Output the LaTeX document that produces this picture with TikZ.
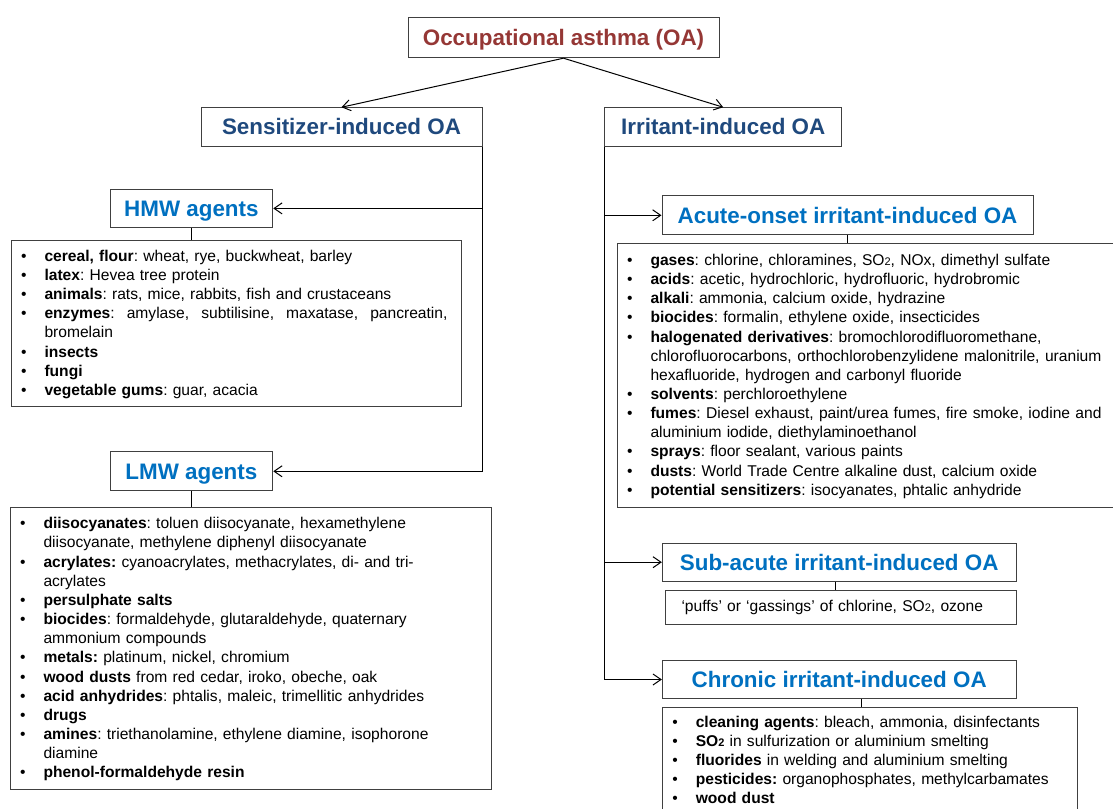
\documentclass[tikz,border=0pt]{standalone}
\usepackage{fontspec}
\setmainfont{Liberation Sans}
\usepackage{xcolor}
\usetikzlibrary{arrows.meta,positioning,calc}
\frenchspacing

\definecolor{oared}{RGB}{149,55,53}
\definecolor{typeblue}{RGB}{31,73,125}
\definecolor{agentblue}{RGB}{0,112,192}
\definecolor{boxline}{RGB}{64,64,64}

\newcommand{\SOtwo}{SO{\fontsize{11}{11}\selectfont 2}}
\newcommand{\fullline}[1]{\makebox[\linewidth][s]{\spaceskip=0.278em plus 2em minus 0.1em\relax #1}}

\newenvironment{agents}[1][0pt]{%
  \begin{list}{\textbullet}{%
    \setlength{\leftmargin}{21pt}%
    \setlength{\rightmargin}{#1}%
    \setlength{\labelwidth}{5.5pt}%
    \setlength{\labelsep}{18pt}%
    \setlength{\itemsep}{0pt}%
    \setlength{\parsep}{0pt}%
    \setlength{\topsep}{0pt}%
    \setlength{\partopsep}{0pt}}}%
  {\end{list}\par\kern6pt}

\begin{document}
\begin{tikzpicture}[
    x=1pt, y=-1pt,
    titlebox/.style={rectangle, draw=boxline, line width=1pt, inner sep=0pt, text height=16pt, text depth=0pt, font=\fontsize{22.4}{26}\selectfont\bfseries},
    agentbox/.style={rectangle, draw=boxline, line width=1pt, inner xsep=12pt, inner ysep=0pt, anchor=north west, font=\fontsize{15.6}{19.15}\selectfont},
    arrow/.style={-{Straight Barb[length=8pt,width=11pt]}, line width=1pt},
    link/.style={line width=1pt}
]
\useasboundingbox (0,0) rectangle (1113,808);

\node[titlebox, text=oared, minimum width=311pt, minimum height=40pt] (oa) at (563.5,37.7) {Occupational asthma (OA)};
\node[titlebox, text=typeblue, minimum width=281pt, minimum height=38.3pt] (sens) at (341.5,126.9) {Sensitizer-induced OA};
\node[titlebox, text=typeblue, minimum width=236.5pt, minimum height=38.3pt] (irr) at (723.2,126.9) {Irritant-induced OA};

\node[titlebox, text=agentblue, minimum width=162.7pt, minimum height=38.7pt] (hmw) at (191.4,208.4) {HMW agents};
\node[titlebox, text=agentblue, minimum width=162.7pt, minimum height=39.3pt] (lmw) at (191.4,471.3) {LMW agents};
\node[titlebox, text=agentblue, minimum width=371pt, minimum height=39.3pt] (acute) at (847.5,215.3) {Acute-onset irritant-induced OA};
\node[titlebox, text=agentblue, minimum width=353.7pt, minimum height=37.7pt] (sub) at (839.2,562.2) {Sub-acute irritant-induced OA};
\node[titlebox, text=agentblue, minimum width=353.7pt, minimum height=37.6pt] (chr) at (839.2,679.5) {Chronic irritant-induced OA};

\node[agentbox, text width=426pt, minimum height=166pt] (hmwlist) at (11,240) {%
\begin{agents}[2pt]
\item \textbf{cereal, flour}: wheat, rye, buckwheat, barley
\item \textbf{latex}: Hevea tree protein
\item \textbf{animals}: rats, mice, rabbits, fish and crustaceans
\item \fullline{\textbf{enzymes}: amylase, subtilisine, maxatase, pancreatin,}\newline bromelain
\item \textbf{insects}
\item \textbf{fungi}
\item \textbf{vegetable gums}: guar, acacia
\end{agents}};

\node[agentbox, text width=457.3pt, minimum height=282.3pt] (lmwlist) at (10,506.7) {%
\begin{agents}
\item \textbf{diisocyanates}: toluen diisocyanate, hexamethylene\newline diisocyanate, methylene diphenyl diisocyanate
\item \textbf{acrylates:} cyanoacrylates, methacrylates, di- and tri-\newline acrylates
\item \textbf{persulphate salts}
\item \textbf{biocides}: formaldehyde, glutaraldehyde, quaternary\newline ammonium compounds
\item \textbf{metals:} platinum, nickel, chromium
\item \textbf{wood dusts} from red cedar, iroko, obeche, oak
\item \textbf{acid anhydrides}: phtalis, maleic, trimellitic anhydrides
\item \textbf{drugs}
\item \textbf{amines}: triethanolamine, ethylene diamine, isophorone\newline diamine
\item \textbf{phenol-formaldehyde resin}
\end{agents}};

\node[agentbox, text width=520pt, minimum height=263.7pt] (acutelist) at (617,243) {%
\begin{agents}[48pt]
\item \textbf{gases}: chlorine, chloramines, \SOtwo, NOx, dimethyl sulfate
\item \textbf{acids}: acetic, hydrochloric, hydrofluoric, hydrobromic
\item \textbf{alkali}: ammonia, calcium oxide, hydrazine
\item \textbf{biocides}: formalin, ethylene oxide, insecticides
\item \textbf{halogenated derivatives}: bromochlorodifluoromethane,\newline \fullline{chlorofluorocarbons, orthochlorobenzylidene malonitrile, uranium}\newline hexafluoride, hydrogen and carbonyl fluoride
\item \textbf{solvents}: perchloroethylene
\item \fullline{\textbf{fumes}: Diesel exhaust, paint/urea fumes, fire smoke, iodine and}\newline aluminium iodide, diethylaminoethanol
\item \textbf{sprays}: floor sealant, various paints
\item \textbf{dusts}: World Trade Centre alkaline dust, calcium oxide
\item \textbf{potential sensitizers}: isocyanates, phtalic anhydride
\end{agents}};

\node[agentbox, inner xsep=16.3pt, text width=318.7pt, minimum height=34.3pt, align=left] (subtext) at (664.7,590) {‘puffs’ or ‘gassings’ of chlorine, \SOtwo, ozone};

\node[agentbox, text width=391pt, minimum height=103.6pt] (chrlist) at (662.3,706.7) {%
\begin{agents}
\item \textbf{cleaning agents}: bleach, ammonia, disinfectants
\item \textbf{\SOtwo} in sulfurization or aluminium smelting
\item \textbf{fluorides} in welding and aluminium smelting
\item \textbf{pesticides:} organophosphates, methylcarbamates
\item \textbf{wood dust}
\end{agents}};

\draw[arrow] (oa.south) -- (sens.north);
\draw[arrow] (oa.south) -- (irr.north);

\draw[arrow] (sens.south east) |- (lmw.east);
\draw[arrow] (sens.south east |- hmw.east) -- (hmw.east);
\draw[link] (hmw.south) -- (hmw.south |- hmwlist.north);
\draw[link] (lmw.south) -- (lmw.south |- lmwlist.north);

\draw[arrow] (irr.south west) |- (chr.west);
\draw[arrow] (irr.south west |- acute.west) -- (acute.west);
\draw[arrow] (irr.south west |- sub.west) -- (sub.west);
\draw[link] (acute.south) -- (acute.south |- acutelist.north);
\draw[link] ([xshift=-4pt]sub.south) -- ([xshift=-4pt]sub.south |- subtext.north);
\draw[link] ([xshift=22.5pt]chr.south) -- ([xshift=22.5pt]chr.south |- chrlist.north);

\end{tikzpicture}
\end{document}
